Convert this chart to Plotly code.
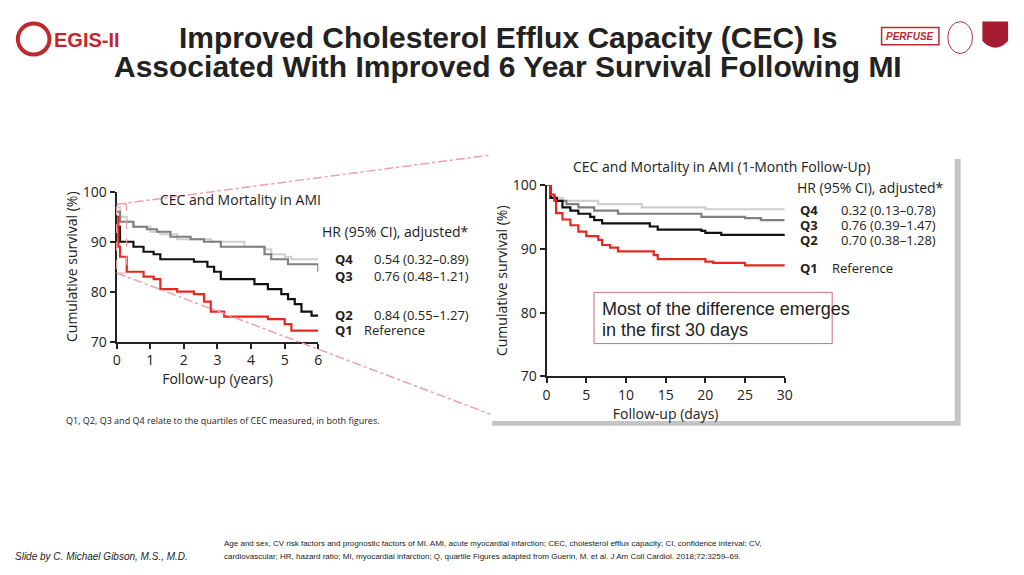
import plotly.graph_objects as go

# Left: 6-year follow-up (years, survival %)
l_q1_x = [0, 0.05, 0.1, 0.3, 0.8, 1.1, 1.3, 1.8, 2.3, 2.6, 2.8, 3.2, 4.5, 5.0, 5.2, 6.0]
l_q1_y = [95, 89, 87, 84, 83, 82.5, 80.5, 80, 79.5, 78, 76, 75, 74.5, 73.5, 72.2, 72.2]
l_q2_x = [0, 0.1, 0.5, 0.8, 1.1, 1.3, 2.3, 2.7, 2.9, 3.1, 4.1, 4.5, 4.9, 5.1, 5.3, 5.5, 5.8, 6.0]
l_q2_y = [93, 90, 89, 88, 87.5, 86.5, 86, 85, 84, 82.5, 81.5, 80.5, 79.5, 78.5, 77.5, 76, 75.2, 75.2]
l_q3_x = [0, 0.1, 0.5, 0.9, 1.2, 1.6, 2.2, 2.6, 3.1, 4.4, 4.6, 5.1, 5.95, 6.0]
l_q3_y = [96, 94, 93, 92.5, 92, 91, 90.5, 90, 89, 87.5, 86.5, 85.5, 85.5, 84]
l_q4_x = [0, 0.1, 0.3, 0.5, 1.0, 1.3, 1.8, 2.8, 3.8, 4.4, 4.6, 5.0, 5.2, 6.0]
l_q4_y = [97, 95, 94, 93, 92, 91.5, 90.5, 90, 89, 88.5, 87.5, 87, 86.5, 86.5]

# Right: 30-day follow-up (days, survival %)
r_q1_x = [0, 0.5, 1, 1.2, 2, 3, 4, 5, 6.5, 7, 8, 9, 13.5, 14, 20, 21, 25, 30]
r_q1_y = [100, 98.5, 97.5, 95.6, 94.6, 93.7, 92.7, 92, 91.4, 90.6, 90.2, 89.6, 89, 88.4, 88, 87.8, 87.4, 87.3]
r_q2_x = [0, 0.5, 1.3, 2, 3, 4, 5.5, 6, 7, 13, 14, 19.5, 20, 22, 30]
r_q2_y = [100, 98, 97.5, 96.5, 96, 95.5, 95, 94.5, 94, 93.5, 93, 92.8, 92.5, 92.2, 92]
r_q3_x = [0, 0.5, 1, 2.5, 4, 6, 9, 16, 19.5, 25, 27, 30]
r_q3_y = [100, 98, 97.5, 97, 96.5, 96, 95.5, 95.5, 95, 94.8, 94.5, 94.5]
r_q4_x = [0, 0.5, 1, 2, 6.5, 12, 20, 30]
r_q4_y = [100, 98.5, 98, 97.5, 97, 96.5, 96.2, 96.2]

left_labels = ["Q4", "Q3", "Q2", "Q1"]
left_hr = ["0.54 (0.32–0.89)", "0.76 (0.48–1.21)", "0.84 (0.55–1.27)", "Reference"]
right_hr = ["0.32 (0.13–0.78)", "0.76 (0.39–1.47)", "0.70 (0.38–1.28)", "Reference"]

RED, BLK, GRY, LGT = "#e8281e", "#111111", "#808080", "#cfcfcf"
W, H = 1024, 575
def px(x): return x / W
def py(y): return 1 - y / H

fig = go.Figure()
series = [(l_q4_x, l_q4_y, LGT), (l_q3_x, l_q3_y, GRY), (l_q2_x, l_q2_y, BLK), (l_q1_x, l_q1_y, RED)]
for x, y, c in series:
    fig.add_trace(go.Scatter(x=x, y=y, mode="lines", line=dict(color=c, width=2.2, shape="hv"),
                             xaxis="x", yaxis="y", showlegend=False, hoverinfo="skip"))
series = [(r_q4_x, r_q4_y, LGT), (r_q3_x, r_q3_y, GRY), (r_q2_x, r_q2_y, BLK), (r_q1_x, r_q1_y, RED)]
for x, y, c in series:
    fig.add_trace(go.Scatter(x=x, y=y, mode="lines", line=dict(color=c, width=2.2, shape="hv"),
                             xaxis="x2", yaxis="y2", showlegend=False, hoverinfo="skip"))

FONT = "Open Sans"
axc = dict(showgrid=False, zeroline=False, showline=True, linecolor="#222", linewidth=2,
           ticks="outside", ticklen=5, tickwidth=1.5, tickcolor="#222",
           tickfont=dict(family=FONT, size=14, color="#222"))
fig.update_layout(
    width=W, height=H, margin=dict(l=0, r=0, t=0, b=0),
    paper_bgcolor="white", plot_bgcolor="rgba(0,0,0,0)",
    xaxis=dict(domain=[px(114), px(318)], range=[0, 6], tickvals=[0, 1, 2, 3, 4, 5, 6],
               anchor="y", title=dict(text="Follow-up (years)", standoff=0,
                                      font=dict(family=FONT, size=14, color="#222")), **axc),
    yaxis=dict(domain=[py(343), py(188)], range=[70, 100], tickvals=[70, 80, 90, 100],
               anchor="x", title=dict(text="Cumulative survival (%)", standoff=2,
                                      font=dict(family=FONT, size=14, color="#222")), **axc),
    xaxis2=dict(domain=[px(549), px(790)], range=[0, 30], tickvals=[0, 5, 10, 15, 20, 25, 30],
                anchor="y2", title=dict(text="Follow-up (days)", standoff=2,
                                        font=dict(family=FONT, size=14, color="#222")), **axc),
    yaxis2=dict(domain=[py(379), py(181)], range=[70, 100], tickvals=[70, 80, 90, 100],
                anchor="x2", title=dict(text="Cumulative survival (%)", standoff=2,
                                        font=dict(family=FONT, size=14, color="#222")), **axc),
)

shapes = [
    dict(type="rect", xref="paper", yref="paper", x0=px(494), x1=px(968), y0=py(430), y1=py(154),
         fillcolor="#c4c4c4", line=dict(width=0), layer="below"),
    dict(type="rect", xref="paper", yref="paper", x0=px(490), x1=px(962), y0=py(425), y1=py(150),
         fillcolor="white", line=dict(width=0), layer="below"),
    dict(type="line", xref="paper", yref="paper", x0=px(114), y0=py(201), x1=px(492), y1=py(150),
         line=dict(color="#f0a0a8", width=1.5, dash="dashdot")),
    dict(type="line", xref="paper", yref="paper", x0=px(114), y0=py(272), x1=px(492), y1=py(418),
         line=dict(color="#f0a0a8", width=1.5, dash="dashdot")),
    dict(type="rect", xref="paper", yref="paper", x0=px(114), x1=px(124), y0=py(272), y1=py(201),
         line=dict(color="#f0a0a8", width=1.2, dash="dash")),
    dict(type="rect", xref="paper", yref="paper", x0=px(597), x1=px(838), y0=py(345), y1=py(292),
         fillcolor="white", line=dict(color="#c87080", width=1)),
    dict(type="circle", xref="paper", yref="paper", x0=px(14), x1=px(46), y0=py(46), y1=py(14),
         line=dict(color="#c0282d", width=4)),
    dict(type="rect", xref="paper", yref="paper", x0=px(888), x1=px(946), y0=py(36), y1=py(18),
         line=dict(color="#c0282d", width=1.5)),
    dict(type="circle", xref="paper", yref="paper", x0=px(955), x1=px(980), y0=py(45), y1=py(12),
         line=dict(color="#b03030", width=1)),
    dict(type="path", xref="paper", yref="paper",
         path=f"M {px(990)} {py(12)} L {px(1016)} {py(12)} L {px(1016)} {py(32)} Q {px(1003)} {py(46)} {px(990)} {py(32)} Z",
         fillcolor="#a51c30", line=dict(width=0)),
]
fig.update_layout(shapes=shapes)

ann = []
def T(x, y, text, size=13, color="#222", family=FONT, xanchor="left", yanchor="middle", **kw):
    ann.append(dict(xref="paper", yref="paper", x=px(x), y=py(y), text=text, showarrow=False,
                    font=dict(family=family, size=size, color=color), xanchor=xanchor, yanchor=yanchor,
                    borderpad=0, **kw))

T(510, 28, "<b>Improved Cholesterol Efflux Capacity (CEC) Is</b>", 30, "#222", "Liberation Sans", "center")
T(510, 58, "<b>Associated With Improved 6 Year Survival Following MI</b>", 30, "#222", "Liberation Sans", "center")
T(50, 31, "<b>EGIS-II</b>", 20, "#c0282d", "Liberation Sans")
T(917, 27, "<b><i>PERFUSE</i></b>", 10, "#c0282d", "Liberation Sans", "center")

T(157, 196, "CEC and Mortality in AMI", 14)
T(472, 229, "HR (95% CI), adjusted*", 14, xanchor="right")
ly = [258, 275, 315, 331]
for lab, hr, y in zip(left_labels, left_hr, ly):
    T(354, y, f"<b>{lab}</b>", 13, xanchor="right")
    if hr == "Reference":
        T(363, y, hr, 13)
    else:
        T(472, y, hr, 13, xanchor="right")

T(726, 162, "CEC and Mortality in AMI (1-Month Follow-Up)", 14, xanchor="center")
T(952, 184, "HR (95% CI), adjusted*", 14, xanchor="right")
ry = [207, 222, 238, 267]
for lab, hr, y in zip(left_labels, right_hr, ry):
    T(825, y, f"<b>{lab}</b>", 13, xanchor="right")
    if hr == "Reference":
        T(837, y, hr, 13)
    else:
        T(944, y, hr, 13, xanchor="right")

T(604, 309, "Most of the difference emerges", 18, "#222", "Liberation Sans")
T(604, 331, "in the first 30 days", 18, "#222", "Liberation Sans")

T(62, 425, "Q1, Q2, Q3 and Q4 relate to the quartiles of CEC measured, in both figures.", 9)
T(10, 565, "<i>Slide by C. Michael Gibson, M.S., M.D.</i>", 10, "#222", "Liberation Sans")
T(222, 552, "Age and sex, CV risk factors and prognostic factors of MI. AMI, acute myocardial infarction; CEC, cholesterol efflux capacity; CI, confidence interval; CV,", 8, "#222", "Liberation Sans")
T(222, 565, "cardiovascular; HR, hazard ratio; MI, myocardial infarction; Q, quartile Figures adapted from Guerin, M. et al. J Am Coll Cardiol. 2018;72:3259–69.", 8, "#222", "Liberation Sans")
fig.update_layout(annotations=ann)

fig.write_html("out.html", config={"displayModeBar": False},
               post_script="document.body.style.margin='0';document.body.style.padding='0';document.body.style.overflow='hidden';")
